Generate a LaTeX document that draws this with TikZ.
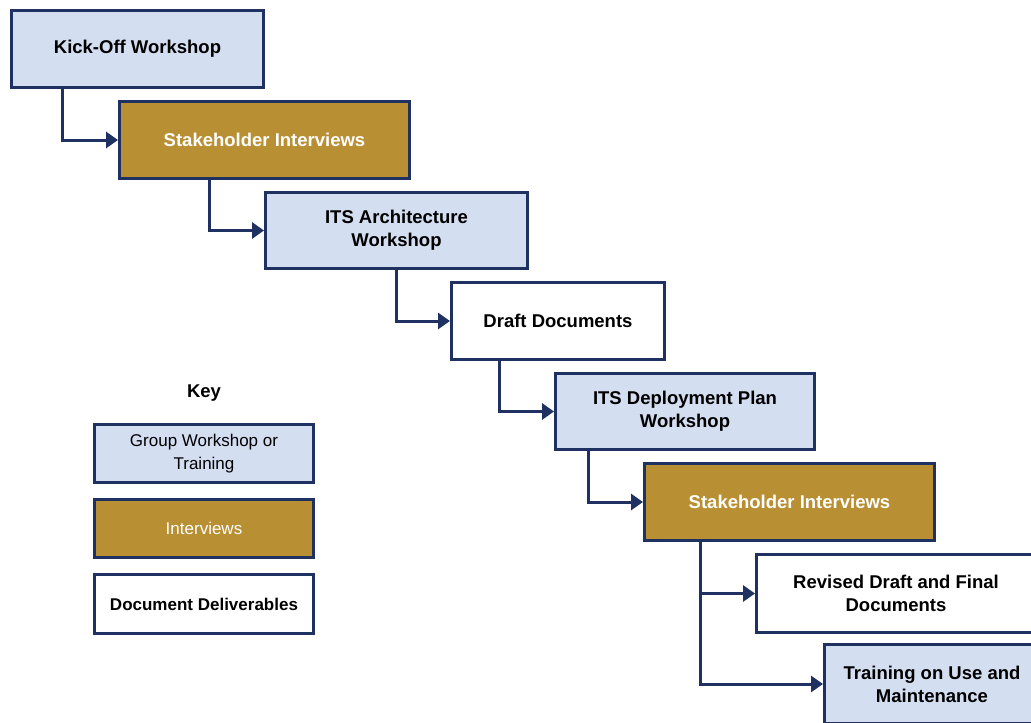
\documentclass[tikz,border=0pt]{standalone}
\usepackage{fontspec}
\setmainfont{Liberation Sans}
\usetikzlibrary{arrows.meta}
\definecolor{navy}{HTML}{1F3160}
\definecolor{wsblue}{HTML}{D4DEF1}
\definecolor{gold}{HTML}{B98F33}
\tikzset{
  box/.style={draw=navy, line width=3pt, inner sep=0pt, align=center,
    font=\fontsize{18.5}{23}\selectfont\bfseries},
  workshop/.style={box, fill=wsblue, text=black},
  interview/.style={box, fill=gold, text=white},
  document/.style={box, fill=white, text=black},
  keyfont/.style={font=\fontsize{17}{23}\selectfont},
  conn/.style={draw=navy, line width=3pt, -{Triangle[length=12pt,width=16pt]}},
}
\begin{document}
\begin{tikzpicture}[x=1pt,y=-1pt]
\path[use as bounding box, clip] (0,0) rectangle (1031,723);
\fill[white] (0,0) rectangle (1031,723);

% process steps
\node[workshop, minimum width=252, minimum height=77] (b1) at (137.5,49) {Kick-Off Workshop};
\node[interview, minimum width=290, minimum height=77] (b2) at (264.5,140) {Stakeholder Interviews};
\node[workshop, minimum width=262, minimum height=76] (b3) at (396.5,230.5) {ITS Architecture\\Workshop};
\node[document, minimum width=213, minimum height=77] (b4) at (558,321) {Draft Documents};
\node[workshop, minimum width=259, minimum height=76] (b5) at (685,411.5) {ITS Deployment Plan\\Workshop};
\node[interview, minimum width=290, minimum height=77] (b6) at (789.5,502) {Stakeholder Interviews};
\node[document, minimum width=279, minimum height=78] (b7) at (896,593.5) {Revised Draft and Final\\Documents};
\node[workshop, minimum width=215, minimum height=79] (b8) at (932,684) {Training on Use and\\Maintenance};

% connectors
\draw[conn] ([xshift=52.5]b1.south west) |- (b2.west);
\draw[conn] ([xshift=91.5]b2.south west) |- (b3.west);
\draw[conn] ([xshift=132.5]b3.south west) |- (b4.west);
\draw[conn] ([xshift=49.5]b4.south west) |- (b5.west);
\draw[conn] ([xshift=34.5]b5.south west) |- (b6.west);
\draw[conn] ([xshift=57.5]b6.south west) |- (b7.west);
\draw[conn] ([xshift=57.5]b6.south west) |- (b8.west);

% key
\node[font=\fontsize{18.5}{23}\selectfont\bfseries] (keytitle) at (204,393) {Key};
\node[workshop, keyfont, minimum width=219, minimum height=58] (k1) at (204,453.5) {Group Workshop or\\Training};
\node[interview, keyfont, minimum width=219, minimum height=58] (k2) at (204,528.5) {Interviews};
\node[document, font=\fontsize{17}{23}\selectfont\bfseries, minimum width=219, minimum height=59] (k3) at (204,604) {Document Deliverables};
\end{tikzpicture}
\end{document}
